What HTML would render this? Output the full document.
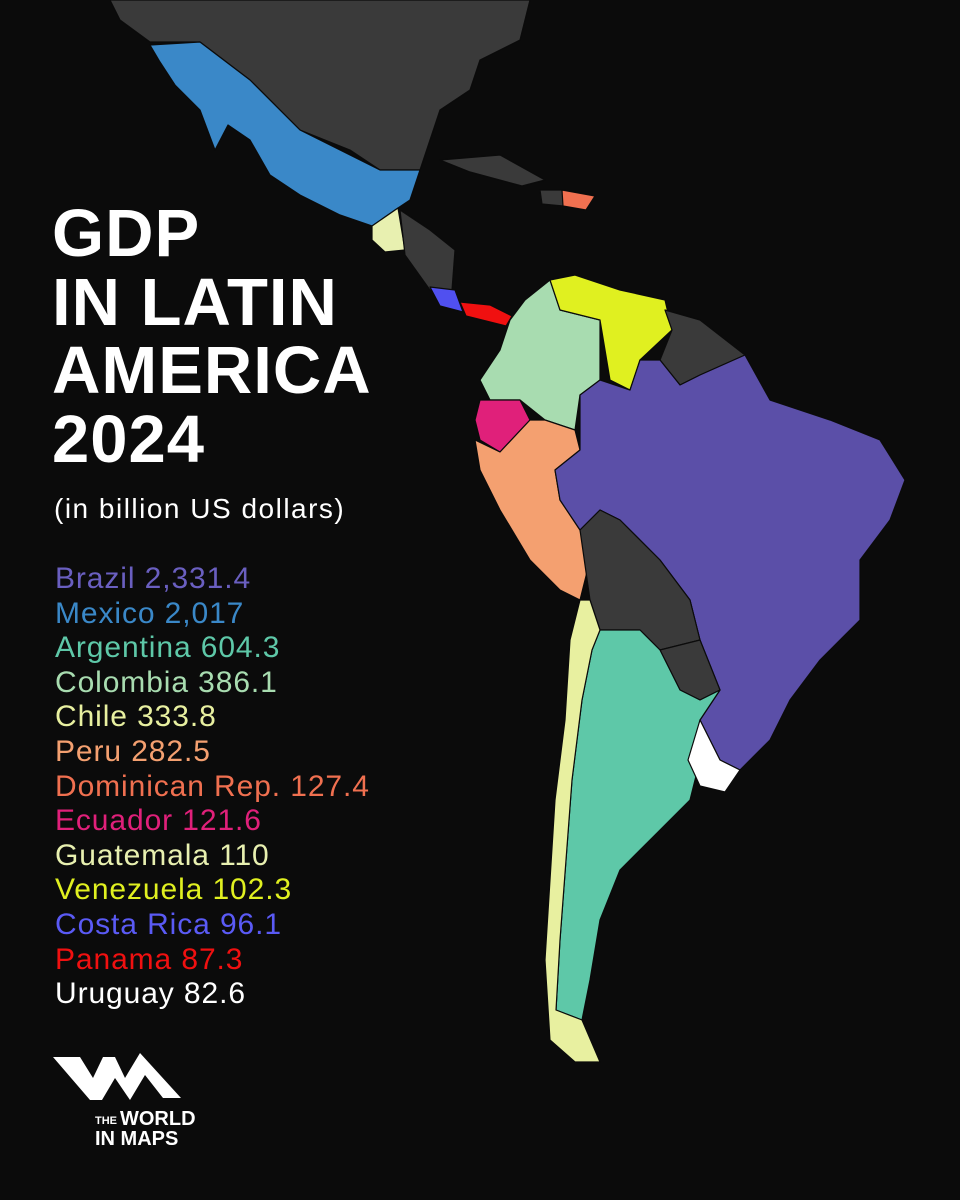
<!DOCTYPE html>
<html><head><meta charset="utf-8"><style>
html,body{margin:0;padding:0;background:#0b0b0b;}
#c{position:relative;width:960px;height:1200px;overflow:hidden;background:#0b0b0b;font-family:"Liberation Sans",sans-serif;}
svg{position:absolute;left:0;top:0;}
.t{position:absolute;left:52px;color:#fff;font-weight:bold;font-size:67px;line-height:68.5px;top:200px;letter-spacing:1px;}
.s{position:absolute;left:54px;top:493px;color:#fff;font-size:28px;letter-spacing:1.5px;}
.l{position:absolute;left:55px;top:562px;font-size:30px;line-height:34.6px;letter-spacing:0.9px;}
</style></head><body><div id="c">
<svg width="960" height="1200" viewBox="0 0 960 1200">
<g stroke="#0b0b0b" stroke-width="1.2" stroke-linejoin="round">
<polygon fill="#3a3a3a" points="110,0 530,0 520,40 480,60 470,90 440,110 430,140 420,170 380,170 350,150 300,130 250,80 200,42 150,42 120,20"/>
<polygon fill="#3a88c8" points="150,45 200,42 250,80 300,130 340,150 380,170 420,170 410,200 395,210 372,226 340,215 300,195 270,175 250,140 228,125 215,150 200,110 175,85 160,62"/>
<polygon fill="#e8f0b0" points="372,226 398,208 405,250 385,252 372,240"/>
<polygon fill="#3a3a3a" points="400,210 430,230 455,250 452,290 430,290 405,255"/>
<polygon fill="#5050f0" points="430,287 455,290 463,312 440,306"/>
<polygon fill="#f01010" points="460,302 490,305 512,316 506,326 482,320 466,316"/>
<polygon fill="#3a3a3a" points="440,160 500,155 545,180 522,186 470,172"/>
<polygon fill="#3a3a3a" points="540,190 565,190 563,206 542,204"/>
<polygon fill="#f07050" points="562,190 595,196 586,210 563,206"/>
<polygon fill="#a8dcb0" points="510,320 525,300 550,280 560,310 600,320 600,380 580,395 575,430 545,420 520,400 490,400 480,380 500,350"/>
<polygon fill="#e0f020" points="550,280 575,275 620,290 665,300 672,330 640,360 630,390 610,380 600,320 560,310"/>
<polygon fill="#3a3a3a" points="665,310 700,320 745,355 700,375 680,385 660,360 672,330"/>
<polygon fill="#e0207a" points="480,400 520,400 530,420 500,452 480,440 475,420"/>
<polygon fill="#f4a070" points="475,440 500,452 530,420 545,420 575,430 580,450 555,470 560,500 580,530 590,560 580,600 560,590 530,560 500,510 480,470"/>
<polygon fill="#5b4fa8" points="580,395 600,380 630,390 640,360 660,360 680,385 700,375 745,355 770,400 830,420 880,440 905,480 890,520 860,560 860,620 820,660 790,700 770,740 740,770 720,760 700,720 720,690 700,640 690,600 660,560 620,520 600,510 580,530 560,500 555,470 580,450"/>
<polygon fill="#3a3a3a" points="580,530 600,510 620,520 660,560 690,600 700,640 660,650 640,630 600,630 590,600"/>
<polygon fill="#3a3a3a" points="660,650 700,640 720,690 700,700 680,690"/>
<polygon fill="#5ec8a8" points="600,630 640,630 660,650 680,690 700,700 720,690 700,720 700,760 690,800 660,830 620,870 600,920 590,980 582,1020 556,1010 560,940 566,860 572,780 582,700 592,650"/>
<polygon fill="#e8f0a0" points="580,600 590,600 600,630 592,650 582,700 572,780 566,860 560,940 556,1010 582,1020 600,1062 575,1062 550,1040 545,960 550,880 555,800 565,720 570,640"/>
<polygon fill="#ffffff" points="700,720 720,760 740,770 725,792 700,786 688,760"/>
</g>
<polygon fill="#fff" points="53,1057 80,1057 93,1078 103,1057 115,1057 125,1078 140,1053 181,1098 163,1098 145,1075 130,1100 115,1078 102,1100 90,1100"/>
<text x="95" y="1124" fill="#fff" font-family="Liberation Sans" font-weight="bold" font-size="11">THE</text>
<text x="120" y="1125" fill="#fff" font-family="Liberation Sans" font-weight="bold" font-size="20">WORLD</text>
<text x="95" y="1145" fill="#fff" font-family="Liberation Sans" font-weight="bold" font-size="20">IN MAPS</text>
</svg>
<div class="t">GDP<br>IN LATIN<br>AMERICA<br>2024</div>
<div class="s">(in billion US dollars)</div>
<div class="l">
<div style="color:#6a5fc0">Brazil 2,331.4</div>
<div style="color:#3a88c8">Mexico 2,017</div>
<div style="color:#5ec8a8">Argentina 604.3</div>
<div style="color:#a8dcb0">Colombia 386.1</div>
<div style="color:#e8f0a0">Chile 333.8</div>
<div style="color:#f4a070">Peru 282.5</div>
<div style="color:#f07050">Dominican Rep. 127.4</div>
<div style="color:#e0207a">Ecuador 121.6</div>
<div style="color:#e8f0b0">Guatemala 110</div>
<div style="color:#e0f020">Venezuela 102.3</div>
<div style="color:#5a5af5">Costa Rica 96.1</div>
<div style="color:#f01010">Panama 87.3</div>
<div style="color:#ffffff">Uruguay 82.6</div>
</div>
</div></body></html>
